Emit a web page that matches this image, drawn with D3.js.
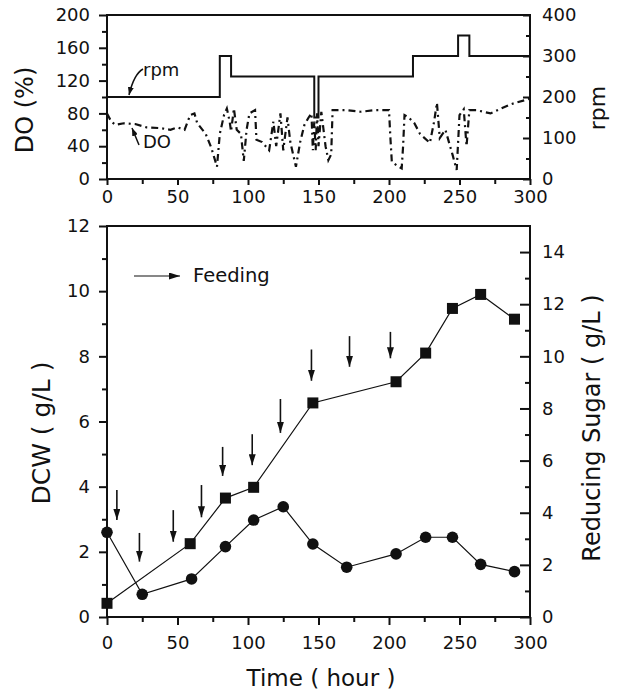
<!DOCTYPE html>
<html><head><meta charset="utf-8">
<script src="https://cdn.jsdelivr.net/npm/d3@7"></script>
<style>
body{margin:0;background:#fff;}
svg{display:block;}
text{font-family:"DejaVu Sans",sans-serif;fill:#111;}
</style></head>
<body>
<svg id="c" width="623" height="695"></svg>
<script>
// ---------- DATA ----------
// top panel: agitation speed (step) and dissolved oxygen
const rpmTime = [0, 80, 88, 147, 150, 217, 249, 257, 300];
const rpmVal  = [200, 300, 250, 150, 250, 300, 350, 300, 300];
const doTime = [0,3,6,12,20,28,38,45,50,55,59,62,64,70,74,78,80,83,85,87,88,90,92,95,97,99,101,105,106,110,115,118,120,123,125,128,130,134,137,140,143,145,146,147,148,149,150,152,155,157,159,160,170,180,190,200,201,202,206,209,210,211,214,218,222,229,232,234,236,240,245,248,250,253,255,257,262,272,286,300];
const doVal  = [80,70,66,68,67,63,62,60,63,60,78,80,68,55,38,15,55,78,86,70,58,86,60,55,22,60,80,84,48,45,35,70,40,80,35,75,45,15,45,66,75,80,35,70,35,80,40,82,40,23,30,84,84,82,84,84,50,21,16,13,40,78,75,68,55,44,70,93,50,60,30,11,78,85,40,84,84,80,91,98];
// bottom panel
const dcwTime = [0, 59, 84, 104, 146, 205, 226, 245, 265, 289];
const dcwVal  = [0.42, 2.25, 3.65, 3.98, 6.57, 7.22, 8.1, 9.47, 9.9, 9.14];
const sugTime = [0, 25, 60, 84, 104, 125, 146, 170, 205, 226, 245, 265, 289];
const sugVal  = [3.25, 0.87, 1.46, 2.7, 3.72, 4.23, 2.8, 1.91, 2.42, 3.06, 3.06, 2.02, 1.74];
// feeding arrows (time, arrow top, arrow tip in DCW units)
const feedTime = [7, 23, 47, 67, 82, 103, 123, 145, 172, 201];
const feedTop  = [3.9, 2.58, 3.28, 4.05, 5.22, 5.61, 6.69, 8.21, 8.62, 8.75];
const feedTip  = [2.98, 1.7, 2.31, 3.06, 4.33, 4.66, 5.65, 7.25, 7.68, 7.94];
// ticks
const xTicks = [0, 50, 100, 150, 200, 250, 300];
const xMinor = [25, 75, 125, 175, 225, 275];
const doTicks = [0, 40, 80, 120, 160, 200];
const doMinor = [20, 60, 100, 140, 180];
const rpmTicks = [0, 100, 200, 300, 400];
const rpmMinor = [50, 150, 250, 350];
const dcwTicks = [0, 2, 4, 6, 8, 10, 12];
const dcwMinor = [1, 3, 5, 7, 9, 11];
const sugTicks = [0, 2, 4, 6, 8, 10, 12, 14];
const sugMinor = [1, 3, 5, 7, 9, 11, 13];

// ---------- LAYOUT ----------
const L = 107, R = 530;
const T1 = 15, B1 = 179, T2 = 226, B2 = 617;
const svg = d3.select("#c");

const x = d3.scaleLinear([0, 300], [L, R]);
const yDO = d3.scaleLinear([0, 200], [B1, T1]);
const yRpm = d3.scaleLinear([0, 400], [B1, T1]);
const yDCW = d3.scaleLinear([0, 12], [B2, T2]);
const ySug = d3.scaleLinear([0, 15], [B2, T2]);

const defs = svg.append("defs");
defs.append("marker").attr("id", "ah").attr("viewBox", "0 -3.5 11 7")
  .attr("refX", 11).attr("refY", 0).attr("markerWidth", 11).attr("markerHeight", 7)
  .attr("markerUnits", "userSpaceOnUse").attr("orient", "auto")
  .append("path").attr("d", "M0,-3.5L11,0L0,3.5Z").attr("fill", "#111");
defs.append("marker").attr("id", "ahs").attr("viewBox", "0 -3 8 6")
  .attr("refX", 8).attr("refY", 0).attr("markerWidth", 8).attr("markerHeight", 6)
  .attr("markerUnits", "userSpaceOnUse").attr("orient", "auto")
  .append("path").attr("d", "M0,-3L8,0L0,3Z").attr("fill", "#111");

function styleAxis(g) {
  g.select(".domain").remove();
  g.selectAll(".tick line").attr("stroke", "#111").attr("stroke-width", 2);
  g.selectAll("text").style("font-size", "18px").style("font-family", "DejaVu Sans");
}
function frame(t, b) {
  svg.append("rect").attr("x", L).attr("y", t).attr("width", R - L).attr("height", b - t)
    .attr("fill", "none").attr("stroke", "#111").attr("stroke-width", 2);
}

// ---------- TOP PANEL ----------
frame(T1, B1);
svg.append("g").attr("transform", `translate(${L},0)`)
  .call(d3.axisLeft(yDO).tickValues(doTicks).tickSize(8).tickPadding(9)).call(styleAxis);
svg.append("g").attr("transform", `translate(${L},0)`)
  .call(d3.axisLeft(yDO).tickValues(doMinor).tickSize(5).tickFormat("")).call(styleAxis);
svg.append("g").attr("transform", `translate(${R},0)`)
  .call(d3.axisRight(yRpm).tickValues(rpmTicks).tickSize(-7).tickPadding(12)).call(styleAxis);
svg.append("g").attr("transform", `translate(${R},0)`)
  .call(d3.axisRight(yRpm).tickValues(rpmMinor).tickSize(-4).tickFormat("")).call(styleAxis);
svg.append("g").attr("transform", `translate(0,${B1})`)
  .call(d3.axisBottom(x).tickValues(xTicks).tickSize(6).tickPadding(5)).call(styleAxis);
svg.append("g").attr("transform", `translate(0,${B1})`)
  .call(d3.axisBottom(x).tickValues(xMinor).tickSize(5).tickFormat("")).call(styleAxis);

const rpmData = rpmTime.map((t, i) => [t, rpmVal[i]]);
svg.append("path").datum(rpmData)
  .attr("d", d3.line().x(d => x(d[0])).y(d => yRpm(d[1])).curve(d3.curveStepAfter))
  .attr("fill", "none").attr("stroke", "#111").attr("stroke-width", 2);

const doData = doTime.map((t, i) => [t, doVal[i]]);
svg.append("path").datum(doData)
  .attr("d", d3.line().x(d => x(d[0])).y(d => yDO(d[1])))
  .attr("fill", "none").attr("stroke", "#111").attr("stroke-width", 2.2)
  .attr("stroke-dasharray", "7,4,2,4");

// annotations
svg.append("text").attr("x", 143).attr("y", 76).style("font-size", "18px").text("rpm");
svg.append("path").attr("d", "M143,69 Q134,74 129,95").attr("fill", "none")
  .attr("stroke", "#111").attr("stroke-width", 1.5).attr("marker-end", "url(#ahs)");
svg.append("text").attr("x", 143).attr("y", 148).style("font-size", "18px").text("DO");
svg.append("path").attr("d", "M139,145 L132,128").attr("fill", "none")
  .attr("stroke", "#111").attr("stroke-width", 1.5).attr("marker-end", "url(#ahs)");

svg.append("text").attr("transform", "translate(33,110) rotate(-90)")
  .attr("text-anchor", "middle").style("font-size", "24px").text("DO (%)");
svg.append("text").attr("transform", "translate(605,108) rotate(-90)")
  .attr("text-anchor", "middle").style("font-size", "22px").text("rpm");

// ---------- BOTTOM PANEL ----------
frame(T2, B2);
svg.append("g").attr("transform", `translate(${L},0)`)
  .call(d3.axisLeft(yDCW).tickValues(dcwTicks).tickSize(8).tickPadding(9)).call(styleAxis);
svg.append("g").attr("transform", `translate(${L},0)`)
  .call(d3.axisLeft(yDCW).tickValues(dcwMinor).tickSize(5).tickFormat("")).call(styleAxis);
svg.append("g").attr("transform", `translate(${R},0)`)
  .call(d3.axisRight(ySug).tickValues(sugTicks).tickSize(-10).tickPadding(12)).call(styleAxis);
svg.append("g").attr("transform", `translate(${R},0)`)
  .call(d3.axisRight(ySug).tickValues(sugMinor).tickSize(-5).tickFormat("")).call(styleAxis);
svg.append("g").attr("transform", `translate(0,${B2})`)
  .call(d3.axisBottom(x).tickValues(xTicks).tickSize(8).tickPadding(11)).call(styleAxis);
svg.append("g").attr("transform", `translate(0,${B2})`)
  .call(d3.axisBottom(x).tickValues(xMinor).tickSize(5).tickFormat("")).call(styleAxis);

const line = d3.line().x(d => d[0]).y(d => d[1]);
const dcwPts = dcwTime.map((t, i) => [x(t), yDCW(dcwVal[i])]);
const sugPts = sugTime.map((t, i) => [x(t), ySug(sugVal[i])]);
svg.append("path").attr("d", line(dcwPts)).attr("fill", "none").attr("stroke", "#111").attr("stroke-width", 1.2);
svg.append("path").attr("d", line(sugPts)).attr("fill", "none").attr("stroke", "#111").attr("stroke-width", 1.2);
svg.append("g").selectAll("rect").data(dcwPts).join("rect")
  .attr("x", d => d[0] - 5.5).attr("y", d => d[1] - 5.5).attr("width", 11).attr("height", 11).attr("fill", "#111");
svg.append("g").selectAll("circle").data(sugPts).join("circle")
  .attr("cx", d => d[0]).attr("cy", d => d[1]).attr("r", 5.8).attr("fill", "#111");

// feeding arrows
svg.append("g").selectAll("line").data(feedTime).join("line")
  .attr("x1", (d) => x(d)).attr("x2", (d) => x(d))
  .attr("y1", (d, i) => yDCW(feedTop[i])).attr("y2", (d, i) => yDCW(feedTip[i]))
  .attr("stroke", "#111").attr("stroke-width", 1.6).attr("marker-end", "url(#ah)");

// legend
svg.append("line").attr("x1", 134).attr("x2", 180).attr("y1", 276).attr("y2", 276)
  .attr("stroke", "#111").attr("stroke-width", 1.2).attr("marker-end", "url(#ah)");
svg.append("text").attr("x", 193).attr("y", 282).style("font-size", "19.5px").text("Feeding");

svg.append("text").attr("transform", "translate(50,433) rotate(-90)")
  .attr("text-anchor", "middle").style("font-size", "25px").text("DCW ( g/L )");
svg.append("text").attr("transform", "translate(600,428) rotate(-90)")
  .attr("text-anchor", "middle").style("font-size", "24px").text("Reducing Sugar ( g/L )");
svg.append("text").attr("x", 321).attr("y", 686)
  .attr("text-anchor", "middle").style("font-size", "23px").text("Time ( hour )");
</script>
</body></html>
